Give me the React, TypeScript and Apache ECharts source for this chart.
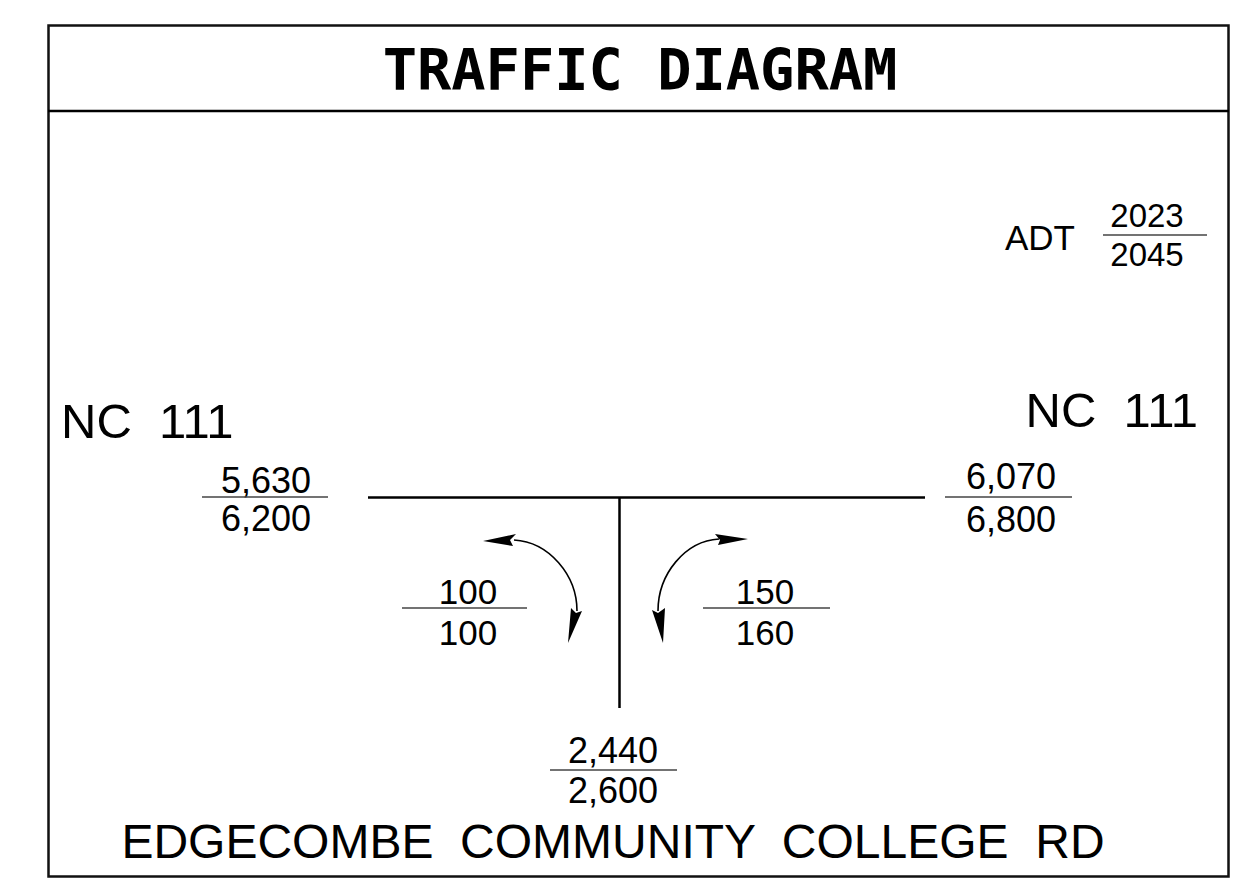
import React, { useEffect, useRef } from "react";
import * as echarts from "echarts";

// ---- data ----
const title = "TRAFFIC DIAGRAM";
const roadMain = "NC  111";
const roadSide = "EDGECOMBE  COMMUNITY  COLLEGE  RD";
const legendLabel = "ADT";
const legendYears = ["2023", "2045"];
const approachNames = ["NC 111 west", "NC 111 east", "Edgecombe Community College Rd"];
const adt2023 = [5630, 6070, 2440];
const adt2045 = [6200, 6800, 2600];
const turnNames = ["west turn", "east turn"];
const turn2023 = [100, 150];
const turn2045 = [100, 160];

const fmt = (v: number) => v.toLocaleString("en-US");

// ---- layout ----
const approachLayout = [
  { cx: 266, x1: 202, x2: 328, ly: 497, ty: 480, by: 518 },
  { cx: 1011, x1: 945, x2: 1072, ly: 497, ty: 476, by: 519 },
  { cx: 613, x1: 550, x2: 677, ly: 770, ty: 750, by: 790 },
];
const turnLayout = [
  { cx: 468, x1: 402, x2: 527, ly: 608, ty: 591, by: 632 },
  { cx: 765, x1: 703, x2: 830, ly: 608, ty: 591, by: 632 },
];

const NUM_FONT = "'Liberation Sans', Arial, sans-serif";

function fraction(top: string, bottom: string, l: any, size: number) {
  return [
    {
      type: "text",
      x: l.cx,
      y: l.ty,
      style: { text: top, fill: "#000", font: `${size}px ${NUM_FONT}`, align: "center", verticalAlign: "middle" },
    },
    {
      type: "line",
      shape: { x1: l.x1, y1: l.ly, x2: l.x2, y2: l.ly },
      style: { stroke: "#444", lineWidth: 1.5 },
    },
    {
      type: "text",
      x: l.cx,
      y: l.by,
      style: { text: bottom, fill: "#000", font: `${size}px ${NUM_FONT}`, align: "center", verticalAlign: "middle" },
    },
  ];
}

export default function App() {
  const ref = useRef<HTMLDivElement>(null);
  useEffect(() => {
    document.body.style.margin = "0";
    const chart = echarts.init(ref.current!, null, { renderer: "svg" });
    const elements: any[] = [];

    // frame
    elements.push({
      type: "rect",
      shape: { x: 48.5, y: 25.5, width: 1180, height: 851 },
      style: { fill: "#fff", stroke: "#111", lineWidth: 2.5 },
    });
    elements.push({
      type: "line",
      shape: { x1: 48, y1: 111, x2: 1229, y2: 111 },
      style: { stroke: "#000", lineWidth: 2.5 },
    });
    elements.push({
      type: "text",
      x: 640,
      y: 70,
      style: {
        text: title,
        fill: "#000",
        font: "bold 57px 'DejaVu Sans Mono', monospace",
        align: "center",
        verticalAlign: "middle",
      },
    });

    // legend
    elements.push({
      type: "text",
      x: 1005,
      y: 237,
      style: { text: legendLabel, fill: "#000", font: `35px ${NUM_FONT}`, align: "left", verticalAlign: "middle" },
    });
    elements.push(
      ...fraction(legendYears[0], legendYears[1], { cx: 1147, x1: 1103, x2: 1207, ly: 235, ty: 215, by: 254 }, 33)
    );

    // road labels
    elements.push({
      type: "text",
      x: 61,
      y: 421,
      style: { text: roadMain, fill: "#000", font: `49px ${NUM_FONT}`, align: "left", verticalAlign: "middle" },
    });
    elements.push({
      type: "text",
      x: 1198,
      y: 410,
      style: { text: roadMain, fill: "#000", font: `49px ${NUM_FONT}`, align: "right", verticalAlign: "middle" },
    });
    elements.push({
      type: "text",
      x: 613,
      y: 841,
      style: { text: roadSide, fill: "#000", font: `48px ${NUM_FONT}`, align: "center", verticalAlign: "middle" },
    });

    // roads
    elements.push({
      type: "line",
      shape: { x1: 368, y1: 497.5, x2: 925, y2: 497.5 },
      style: { stroke: "#000", lineWidth: 2.5 },
    });
    elements.push({
      type: "line",
      shape: { x1: 619.5, y1: 497, x2: 619.5, y2: 708 },
      style: { stroke: "#000", lineWidth: 2.5 },
    });

    // approach volumes
    approachNames.forEach((_, i) => {
      elements.push(...fraction(fmt(adt2023[i]), fmt(adt2045[i]), approachLayout[i], 36));
    });
    // turn volumes
    turnNames.forEach((_, i) => {
      elements.push(...fraction(fmt(turn2023[i]), fmt(turn2045[i]), turnLayout[i], 35));
    });

    // turning arrows
    elements.push({
      type: "bezierCurve",
      shape: { x1: 514, y1: 540, x2: 577, y2: 611, cpx1: 549, cpy1: 542, cpx2: 577, cpy2: 575 },
      style: { stroke: "#000", lineWidth: 1.6, fill: "none" },
    });
    elements.push({
      type: "polygon",
      shape: { points: [[483, 541], [516, 534], [510, 540], [513, 546]] },
      style: { fill: "#000" },
    });
    elements.push({
      type: "polygon",
      shape: { points: [[568, 643], [571, 608], [576, 613], [582, 611]] },
      style: { fill: "#000" },
    });

    elements.push({
      type: "bezierCurve",
      shape: { x1: 658, y1: 611, x2: 719, y2: 539, cpx1: 658, cpy1: 574, cpx2: 685, cpy2: 541 },
      style: { stroke: "#000", lineWidth: 1.6, fill: "none" },
    });
    elements.push({
      type: "polygon",
      shape: { points: [[748, 539], [715, 534], [720, 540], [718, 545]] },
      style: { fill: "#000" },
    });
    elements.push({
      type: "polygon",
      shape: { points: [[663, 643], [652, 610], [658, 613], [665, 608]] },
      style: { fill: "#000" },
    });

    chart.setOption({
      animation: false,
      backgroundColor: "#fff",
      graphic: { elements },
    });
    return () => chart.dispose();
  }, []);
  return <div ref={ref} style={{ width: 1240, height: 890 }} />;
}
